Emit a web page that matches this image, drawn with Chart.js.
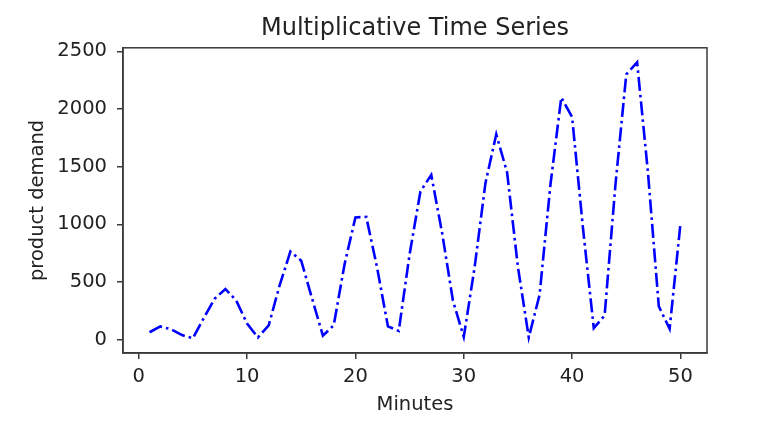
<!DOCTYPE html>
<html lang="en">
  <head>
    <title>Multiplicative Time Series</title>
    <meta charset="utf-8" />
    <script src="https://cdn.jsdelivr.net/npm/chart.js@4.4.9/dist/chart.umd.min.js"></script>
  </head>

  <body style="padding: 0; margin: 0; background: #fff">
    <div style="width: 770px; height: 434px; position: relative">
      <canvas id="myChart"></canvas>
    </div>

    <script>
      // data
      const minutes = [
        1, 2, 3, 4, 5, 6, 7, 8, 9, 10, 11, 12, 13, 14, 15, 16, 17, 18, 19, 20,
        21, 22, 23, 24, 25, 26, 27, 28, 29, 30, 31, 32, 33, 34, 35, 36, 37, 38,
        39, 40, 41, 42, 43, 44, 45, 46, 47, 48, 49, 50,
      ];
      const demand = [
        65, 115, 90, 40, 12, 188, 354, 440, 340, 140, 20, 125, 470, 765, 684,
        357, 35, 125, 655, 1060, 1065, 626, 116, 76, 740, 1285, 1429, 927, 340,
        24, 626, 1357, 1780, 1450, 630, 20, 390, 1343, 2100, 1930, 970, 100,
        210, 1343, 2300, 2405, 1450, 290, 95, 1005,
      ];
      const xTicks = [0, 10, 20, 30, 40, 50];
      const yTicks = [0, 500, 1000, 1500, 2000, 2500];

      const ink = "#222";
      const frame = "#3a3a3a";
      const family = "'DejaVu Sans', sans-serif";

      const framePlugin = {
        id: "frame",
        afterDraw(chart) {
          const { ctx, chartArea: a } = chart;
          ctx.save();
          ctx.strokeStyle = frame;
          ctx.lineWidth = 1.5;
          ctx.strokeRect(a.left, a.top, a.right - a.left, a.bottom - a.top);
          ctx.restore();
        },
      };

      const points = minutes.map((m, i) => ({ x: m, y: demand[i] }));

      new Chart(document.getElementById("myChart"), {
        type: "line",
        data: {
          datasets: [
            {
              data: points,
              borderColor: "#0000ff",
              borderWidth: 2.6,
              borderDash: [14, 4, 2.6, 4],
              borderCapStyle: "butt",
              pointRadius: 0,
              tension: 0,
              fill: false,
            },
          ],
        },
        plugins: [framePlugin],
        options: {
          responsive: true,
          maintainAspectRatio: false,
          animation: false,
          layout: { padding: { left: 0, right: 63, top: 0, bottom: 0 } },
          plugins: {
            legend: { display: false },
            tooltip: { enabled: false },
            title: {
              display: true,
              fullSize: false,
              text: "Multiplicative Time Series",
              color: ink,
              font: { family: family, size: 24, weight: "normal" },
              padding: { top: 14, bottom: 5 },
            },
          },
          scales: {
            x: {
              type: "linear",
              min: -1.45,
              max: 52.45,
              afterBuildTicks(scale) {
                scale.ticks = xTicks.map((v) => ({ value: v }));
              },
              afterFit(scale) {
                scale.height = 81;
              },
              grid: {
                drawOnChartArea: false,
                drawTicks: true,
                tickLength: 6,
                color: frame,
                lineWidth: 1.5,
              },
              border: { display: true, color: frame, width: 1.5 },
              ticks: {
                color: ink,
                padding: 6,
                maxRotation: 0,
                font: { family: family, size: 19.5 },
                callback: (v) => String(v),
              },
              title: {
                display: true,
                text: "Minutes",
                color: ink,
                font: { family: family, size: 19.5 },
                padding: { top: 4, bottom: 17 },
              },
            },
            y: {
              type: "linear",
              min: -115,
              max: 2530,
              afterBuildTicks(scale) {
                scale.ticks = yTicks.map((v) => ({ value: v }));
              },
              afterFit(scale) {
                scale.width = 123;
              },
              grid: {
                drawOnChartArea: false,
                drawTicks: true,
                tickLength: 6,
                color: frame,
                lineWidth: 1.5,
              },
              border: { display: true, color: frame, width: 1.5 },
              ticks: {
                color: ink,
                padding: 10,
                font: { family: family, size: 19.5 },
                callback: (v) => String(v),
              },
              title: {
                display: true,
                text: "product demand",
                color: ink,
                font: { family: family, size: 19.5 },
                padding: { top: 26, bottom: 4 },
              },
            },
          },
        },
      });
    </script>
  </body>
</html>
